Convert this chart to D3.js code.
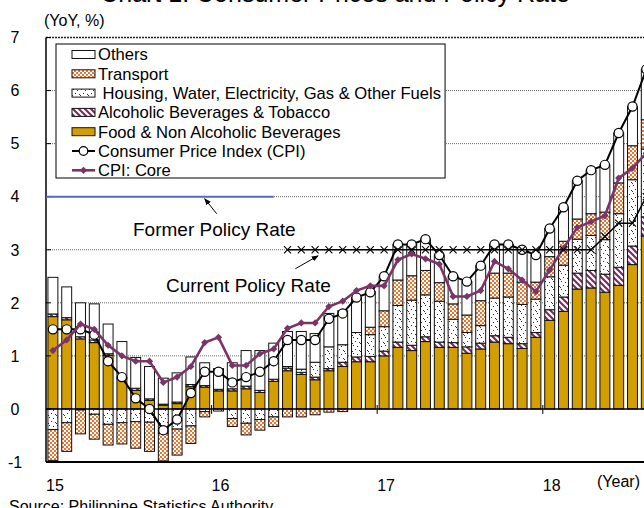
<!DOCTYPE html>
<html><head><meta charset="utf-8">
<script src="https://cdn.jsdelivr.net/npm/d3@7"></script>
<style>
html,body{margin:0;padding:0;background:#fff;}
svg{display:block;font-family:"Liberation Sans",Arial,Helvetica,sans-serif;}
</style></head><body>
<svg id="c" width="644" height="508"></svg>
<script>
// ---------- DATA ----------
const months = [
 "2015-01","2015-02","2015-03","2015-04","2015-05","2015-06","2015-07","2015-08","2015-09","2015-10","2015-11","2015-12",
 "2016-01","2016-02","2016-03","2016-04","2016-05","2016-06","2016-07","2016-08","2016-09","2016-10","2016-11","2016-12",
 "2017-01","2017-02","2017-03","2017-04","2017-05","2017-06","2017-07","2017-08","2017-09","2017-10","2017-11","2017-12",
 "2018-01","2018-02","2018-03","2018-04","2018-05","2018-06","2018-07","2018-08"];
const yearTicks = ["2016-01","2017-01","2018-01"];
const xTickMonths = ["2015-01","2016-01","2017-01","2018-01"];
const xTickLabels = ["15","16","17","18"];
const yTicks = [-1,0,1,2,3,4,5,6,7];

const food = [1.74,1.68,1.32,1.25,1.01,0.57,0.35,0.16,0.07,0.10,0.42,0.41,
 0.34,0.34,0.38,0.31,0.52,0.72,0.65,0.55,0.72,0.80,0.89,0.89,
 1.00,1.16,1.10,1.27,1.16,1.16,1.05,1.13,1.26,1.23,1.14,1.35,
 1.67,1.84,2.26,2.28,2.20,2.33,2.72,3.26];
const alcohol = [0.05,0.04,0.04,0.05,0.03,0.02,0.04,0.03,0.02,0.03,0.04,0.03,
 0.03,0.04,0.05,0.04,0.04,0.05,0.04,0.05,0.04,0.08,0.09,0.10,
 0.09,0.10,0.10,0.09,0.10,0.09,0.12,0.11,0.12,0.12,0.09,0.09,
 0.20,0.27,0.30,0.33,0.34,0.34,0.35,0.36];
const housing = [-0.39,-0.26,-0.02,-0.10,-0.29,-0.26,-0.24,-0.25,-0.46,-0.38,-0.32,-0.05,
 -0.04,-0.18,-0.27,-0.20,-0.15,0.03,0.06,0.28,0.41,0.33,0.46,0.41,
 0.46,0.69,0.85,0.79,0.77,0.44,0.27,0.33,0.71,0.76,0.74,0.63,
 0.62,0.60,0.64,0.66,0.65,1.01,1.25,1.28];
const transport = [-0.58,-0.54,-0.45,-0.47,-0.39,-0.40,-0.50,-0.55,-0.52,-0.49,-0.33,-0.10,
 0.00,-0.15,-0.22,-0.20,-0.18,-0.15,-0.15,-0.11,-0.06,-0.05,0.00,0.14,
 0.30,0.48,0.46,0.46,0.35,0.29,0.33,0.47,0.47,0.45,0.42,0.32,
 0.38,0.45,0.38,0.41,0.52,0.58,0.64,0.55];
const others = [0.69,0.58,0.64,0.68,0.56,0.68,0.58,0.61,0.49,0.55,0.52,0.43,
 0.39,0.49,0.67,0.75,0.68,0.66,0.71,0.54,0.63,0.64,0.66,0.67,
 0.65,0.67,0.59,0.59,0.52,0.52,0.63,0.66,0.54,0.54,0.61,0.51,
 0.53,0.64,0.72,0.82,0.89,0.94,0.74,0.95];
const cpi = [1.5,1.5,1.5,1.4,0.9,0.6,0.2,0.0,-0.4,-0.2,0.3,0.7,
 0.7,0.5,0.6,0.7,0.9,1.3,1.3,1.3,1.7,1.8,2.1,2.2,
 2.5,3.1,3.1,3.2,2.9,2.5,2.4,2.7,3.1,3.1,3.0,2.9,
 3.4,3.8,4.3,4.5,4.6,5.2,5.7,6.4];
const core = [1.1,1.3,1.6,1.5,1.2,1.0,0.9,0.9,0.5,0.6,0.8,1.25,
 1.35,0.82,0.82,1.04,1.13,1.52,1.62,1.62,1.93,2.03,2.23,2.32,
 2.32,2.81,2.92,2.83,2.73,2.12,2.12,2.23,2.78,2.64,2.43,2.21,
 2.62,3.03,3.42,3.53,3.64,4.35,4.54,4.82];
const formerPolicyMonths = ["2015-01","2015-02","2015-03","2015-04","2015-05","2015-06","2015-07","2015-08","2015-09","2015-10","2015-11","2015-12","2016-01","2016-02","2016-03","2016-04","2016-05"];
const formerPolicy = [4,4,4,4,4,4,4,4,4,4,4,4,4,4,4,4,4];
const currentPolicyMonths = months.slice(17);
const currentPolicy = [3,3,3,3,3,3,3, 3,3,3,3,3,3,3,3,3,3,3,3, 3,3,3,3,3.25,3.5,3.5,4.0];

const seriesKeys = ["food","alcohol","housing","transport","others"];
const legendLabels = ["Others","Transport"," Housing, Water, Electricity, Gas & Other Fuels","Alcoholic Beverages & Tobacco","Food & Non Alcoholic Beverages","Consumer Price Index (CPI)","CPI: Core"];
const legendKeys = ["others","transport","housing","alcohol","food","cpi","core"];

// ---------- SETUP ----------
const svg = d3.select("#c");
const defs = svg.append("defs");
const pT = defs.append("pattern").attr("id","pTra").attr("patternUnits","userSpaceOnUse").attr("width",4).attr("height",4);
pT.append("rect").attr("width",4).attr("height",4).attr("fill","#fff");
pT.append("rect").attr("width",2).attr("height",2).attr("fill","#EC7630");
pT.append("rect").attr("x",2).attr("y",2).attr("width",2).attr("height",2).attr("fill","#EC7630");
const pH = defs.append("pattern").attr("id","pHou").attr("patternUnits","userSpaceOnUse").attr("width",8).attr("height",8);
pH.append("rect").attr("width",8).attr("height",8).attr("fill","#fff");
[[1,1],[5,2],[3,5],[7,6],[0,7]].forEach(p=>pH.append("rect").attr("x",p[0]).attr("y",p[1]).attr("width",1).attr("height",1).attr("fill","#333"));
const pA = defs.append("pattern").attr("id","pAlc").attr("patternUnits","userSpaceOnUse").attr("width",6).attr("height",6);
pA.append("rect").attr("width",6).attr("height",6).attr("fill","#fff");
pA.append("path").attr("d","M-1,-1L7,7M-1,5L1,7M5,-1L7,1").attr("stroke","#7A2E60").attr("stroke-width",2.2);
defs.append("marker").attr("id","arr").attr("viewBox","0 0 10 10").attr("refX",9).attr("refY",5)
  .attr("markerWidth",7).attr("markerHeight",7).attr("orient","auto")
  .append("path").attr("d","M0,1L10,5L0,9Z").attr("fill","#000");

const fills = {food:"#D39E00", alcohol:"url(#pAlc)", housing:"url(#pHou)", transport:"url(#pTra)", others:"#fff"};
const coreColor = "#7B3468";

const x = d3.scaleBand().domain(months).range([46, 653.2]).paddingInner(0.28).paddingOuter(0.14);
const y = d3.scaleLinear().domain([-1,7]).range([462,37.5]);
const bw = x.bandwidth();
const cx = m => x(m) + bw/2;
const step = x.step();

// title (cropped at top in reference)
svg.append("text").attr("x",335).attr("y",1.5).attr("text-anchor","middle").attr("font-size",25).attr("fill","#000")
  .text("Chart 1: Consumer Prices and Policy Rate");

// gridlines
svg.append("g").selectAll("line").data([1,2,3,4,5,6]).join("line")
  .attr("x1",46).attr("x2",644).attr("y1",d=>y(d)).attr("y2",d=>y(d))
  .attr("stroke","#666").attr("stroke-width",1).attr("stroke-dasharray","1,1");
svg.append("line").attr("x1",46).attr("x2",644).attr("y1",y(7)).attr("y2",y(7))
  .attr("stroke","#222").attr("stroke-width",1.6).attr("stroke-dasharray","2,1");

// bars
const rows = months.map((m,i)=>({m, food:food[i], alcohol:alcohol[i], housing:housing[i], transport:transport[i], others:others[i]}));
const stacked = d3.stack().keys(seriesKeys).offset(d3.stackOffsetDiverging)(rows);
const gb = svg.append("g");
stacked.forEach(s=>{
  gb.selectAll(null).data(s.filter(d=>Math.abs(d[1]-d[0])>0.004)).join("rect")
    .attr("x",d=>x(d.data.m)).attr("width",bw)
    .attr("y",d=>y(Math.max(d[0],d[1]))).attr("height",d=>Math.abs(y(d[0])-y(d[1])))
    .attr("fill",fills[s.key]).attr("stroke","#111").attr("stroke-width",1);
});

// axes
svg.append("line").attr("x1",46).attr("x2",644).attr("y1",y(0)).attr("y2",y(0)).attr("stroke","#000").attr("stroke-width",1.6);
svg.append("line").attr("x1",46).attr("x2",644).attr("y1",y(-1)).attr("y2",y(-1)).attr("stroke","#000").attr("stroke-width",2);
svg.append("line").attr("x1",46).attr("x2",46).attr("y1",y(7)).attr("y2",y(-1)).attr("stroke","#000").attr("stroke-width",1.5);
svg.append("g").selectAll("line").data(yTicks).join("line")
  .attr("x1",46).attr("x2",51).attr("y1",d=>y(d)).attr("y2",d=>y(d)).attr("stroke","#000").attr("stroke-width",1);
svg.append("g").selectAll("line").data(yearTicks).join("line")
  .attr("x1",d=>x(d)-(step-bw)/2).attr("x2",d=>x(d)-(step-bw)/2)
  .attr("y1",y(0)-4).attr("y2",y(0)+5).attr("stroke","#000").attr("stroke-width",1);
svg.append("g").selectAll("text").data(yTicks).join("text")
  .attr("x",15).attr("y",d=>y(d)).attr("dy","0.36em").attr("text-anchor","middle").attr("font-size",16).text(d=>d);
svg.append("text").attr("x",44).attr("y",26).attr("font-size",16).text("(YoY, %)");
svg.append("g").selectAll("text").data(xTickMonths).join("text")
  .attr("x",d=>cx(d)+2).attr("y",491).attr("text-anchor","middle").attr("font-size",16).text((d,i)=>xTickLabels[i]);
svg.append("text").attr("x",597).attr("y",487).attr("font-size",16).text("(Year)");
svg.append("text").attr("x",9).attr("y",512).attr("font-size",16).text("Source: Philippine Statistics Authority");

// former policy rate
const fp = formerPolicyMonths.map((m,i)=>[cx(m), y(formerPolicy[i])]);
fp.unshift([x.range()[0], y(formerPolicy[0])]);
svg.append("path").attr("d",d3.line()(fp)).attr("fill","none").attr("stroke","#6065C6").attr("stroke-width",2);

// CPI
const cpiPts = months.map((m,i)=>[cx(m), y(cpi[i])]);
svg.append("path").attr("d",d3.line()(cpiPts)).attr("fill","none").attr("stroke","#000").attr("stroke-width",2);
svg.append("g").selectAll("circle").data(cpiPts).join("circle")
  .attr("cx",d=>d[0]).attr("cy",d=>d[1]).attr("r",4.6).attr("fill","#fff").attr("stroke","#000").attr("stroke-width",1.2);

// Core
const corePts = months.map((m,i)=>[cx(m), y(core[i])]);
svg.append("path").attr("d",d3.line()(corePts)).attr("fill","none").attr("stroke",coreColor).attr("stroke-width",2.6);
const dia = d3.symbol(d3.symbolSquare, 26)();
svg.append("g").selectAll("path").data(corePts).join("path")
  .attr("d",dia).attr("transform",d=>`translate(${d[0]},${d[1]}) rotate(45)`).attr("fill",coreColor);

// current policy rate
const cp = currentPolicyMonths.map((m,i)=>[cx(m), y(currentPolicy[i])]);
svg.append("path").attr("d",d3.line()(cp)).attr("fill","none").attr("stroke","#000").attr("stroke-width",1.6);
const xs = d3.symbol(d3.symbolX, 34)();
svg.append("g").selectAll("path").data(cp).join("path")
  .attr("d",xs).attr("transform",d=>`translate(${d[0]},${d[1]})`).attr("fill","none").attr("stroke","#000").attr("stroke-width",1.1);

// annotations
svg.append("text").attr("x",133).attr("y",236).attr("font-size",19).text("Former Policy Rate");
svg.append("line").attr("x1",cx("2015-12")+12).attr("y1",y(4)+17).attr("x2",cx("2015-12")).attr("y2",y(4)+2)
  .attr("stroke","#000").attr("stroke-width",1).attr("marker-end","url(#arr)");
svg.append("text").attr("x",166).attr("y",292).attr("font-size",19).text("Current Policy Rate");
svg.append("line").attr("x1",cx("2016-07")-6).attr("y1",y(3)+19).attr("x2",cx("2016-08")+3).attr("y2",y(3)+6)
  .attr("stroke","#000").attr("stroke-width",1).attr("marker-end","url(#arr)");

// legend
const lg = svg.append("g");
const lgX = 56, lgY = 44, rowH = 19.3;
const lgBox = lg.append("rect").attr("x",lgX).attr("y",lgY).attr("height",134).attr("fill","#fff").attr("stroke","#000").attr("stroke-width",1);
let maxW = 0;
legendKeys.forEach((k,i)=>{
  const yc = lgY + 10.5 + i*rowH;
  if (k==="cpi"){
    lg.append("line").attr("x1",lgX+16).attr("x2",lgX+39).attr("y1",yc).attr("y2",yc).attr("stroke","#000").attr("stroke-width",2);
    lg.append("circle").attr("cx",lgX+27.5).attr("cy",yc).attr("r",4.3).attr("fill","#fff").attr("stroke","#000").attr("stroke-width",1.2);
  } else if (k==="core"){
    lg.append("line").attr("x1",lgX+16).attr("x2",lgX+39).attr("y1",yc).attr("y2",yc).attr("stroke",coreColor).attr("stroke-width",2.6);
    lg.append("path").attr("d",dia).attr("transform",`translate(${lgX+27.5},${yc}) rotate(45)`).attr("fill",coreColor);
  } else {
    lg.append("rect").attr("x",lgX+16).attr("y",yc-4).attr("width",23).attr("height",8)
      .attr("fill",fills[k]).attr("stroke","#111").attr("stroke-width",1);
  }
  const t = lg.append("text").attr("x",lgX+42).attr("y",yc).attr("dy","0.36em").attr("font-size",16.6)
    .attr("xml:space","preserve").style("white-space","pre").text(legendLabels[i]);
  maxW = Math.max(maxW, t.node().getComputedTextLength());
});
lgBox.attr("width", 42 + maxW + 4);
</script>
</body></html>
